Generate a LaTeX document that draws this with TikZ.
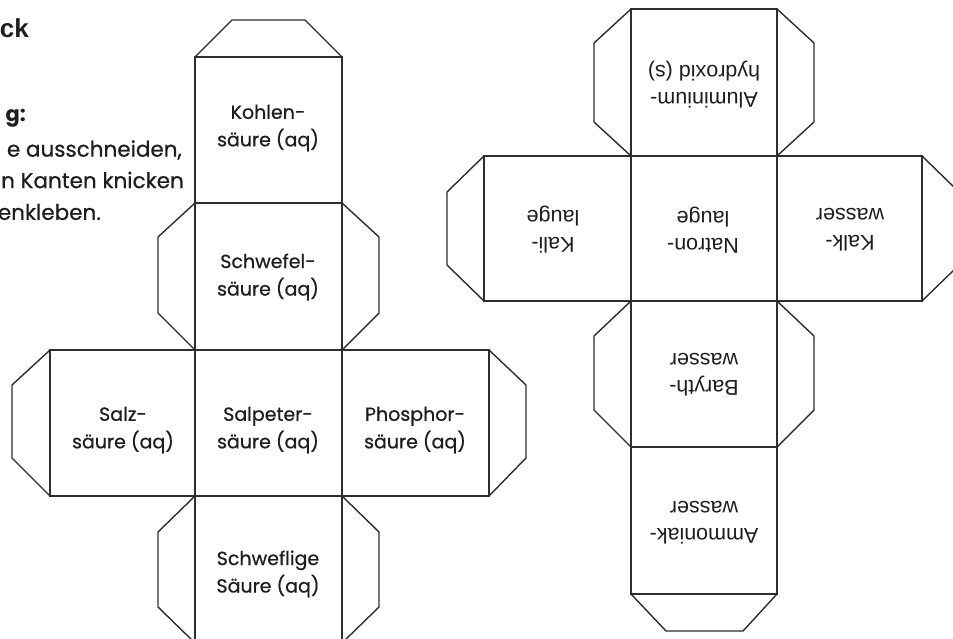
\documentclass[tikz,border=0pt]{standalone}
\usepackage{fontspec}
\setmainfont{Liberation Sans}
\newfontfamily\schoolfont[FakeBold=0.6]{Poppins}
\newfontfamily\schoolbold{Poppins}
\newfontfamily\armfont{Liberation Sans}
\definecolor{ink}{HTML}{2E2E2E}
\definecolor{txt}{HTML}{1E1E1E}
\tikzset{
  edge/.style={draw=ink, line width=1.4pt, line join=miter},
  acid/.style={text=txt, align=center, font=\schoolfont\fontsize{19}{27.5}\selectfont, inner sep=0pt},
  base/.style={text=txt, align=center, font=\armfont\fontsize{21.5}{27}\selectfont, inner sep=0pt, rotate=180},
  instr/.style={text=txt, anchor=east, inner sep=0pt, font=\schoolfont\fontsize{21.5}{24}\selectfont},
}
\begin{document}
\begin{tikzpicture}[x=1pt,y=-1pt]
\useasboundingbox (0,0) rectangle (953,638);
\fill[white] (0,0) rectangle (953,638);
\begin{scope}
\clip (0,0) rectangle (953,638);
% ---------------- left net (acids)
% tabs
\draw[edge] (195,57) -- (232,20) -- (305,20) -- (342,57);
\draw[edge] (195,203) -- (158,237) -- (158,313) -- (195,350);
\draw[edge] (342,203) -- (379,237) -- (379,313) -- (342,350);
\draw[edge] (50,350) -- (12,385) -- (12,458) -- (50,496);
\draw[edge] (489,350) -- (526,385) -- (526,458) -- (489,496);
\draw[edge] (195,496) -- (158,532) -- (158,607) -- (195,643);
\draw[edge] (342,496) -- (379,532) -- (379,607) -- (342,643);
% faces
\draw[edge] (195,57) rectangle (342,203);
\draw[edge] (195,203) rectangle (342,350);
\draw[edge] (50,350) rectangle (195,496);
\draw[edge] (195,350) rectangle (342,496);
\draw[edge] (342,350) rectangle (489,496);
\draw[edge] (195,496) rectangle (342,643);
\node[acid] (kohlen) at (268,128) {Kohlen-\\säure (aq)};
\node[acid] (schwefel) at (268,277) {Schwefel-\\säure (aq)};
\node[acid] (salz) at (123,430) {Salz-\\säure (aq)};
\node[acid] (salpeter) at (268,430) {Salpeter-\\säure (aq)};
\node[acid] (phosphor) at (415,430) {Phosphor-\\säure (aq)};
\node[acid] (schweflig) at (268,574) {Schweflige\\Säure (aq)};
% ---------------- right net (bases)
\draw[edge] (631,9) -- (594,43) -- (594,122) -- (631,156);
\draw[edge] (777,9) -- (814,43) -- (814,122) -- (777,156);
\draw[edge] (484,156) -- (447,192) -- (447,265) -- (484,301);
\draw[edge] (922,156) -- (959,192) -- (959,265) -- (922,301);
\draw[edge] (631,301) -- (594,336) -- (594,410) -- (631,447);
\draw[edge] (777,301) -- (814,336) -- (814,410) -- (777,447);
\draw[edge] (631,594) -- (666,631) -- (743,631) -- (777,594);
\draw[edge] (631,9) rectangle (777,156);
\draw[edge] (484,156) rectangle (631,301);
\draw[edge] (631,156) rectangle (777,301);
\draw[edge] (777,156) rectangle (922,301);
\draw[edge] (631,301) rectangle (777,447);
\draw[edge] (631,447) rectangle (777,594);
\node[base] (alu) at (704,85) {Aluminium-\\hydroxid (s)};
\node[base] (kali) at (553,230) {Kali-\\lauge};
\node[base] (natron) at (703,230) {Natron-\\lauge};
\node[base] (kalk) at (850,230) {Kalk-\\wasser};
\node[base] (baryth) at (704,375) {Baryth-\\wasser};
\node[base] (ammoniak) at (704,523) {Ammoniak-\\wasser};
% ---------------- cut-off instruction text
\node[instr, font=\armfont\bfseries\fontsize{26}{28}\selectfont] (ck) at (29,28) {ck};
\node[instr, font=\schoolbold\bfseries\fontsize{21}{24}\selectfont] (g) at (26,118) {g:};
\node[instr] (l1) at (182,150) {e ausschneiden,};
\node[instr] (l2) at (184,180) {n Kanten knicken};
\node[instr] (l3) at (101,212) {enkleben.};
\end{scope}
\end{tikzpicture}
\end{document}
